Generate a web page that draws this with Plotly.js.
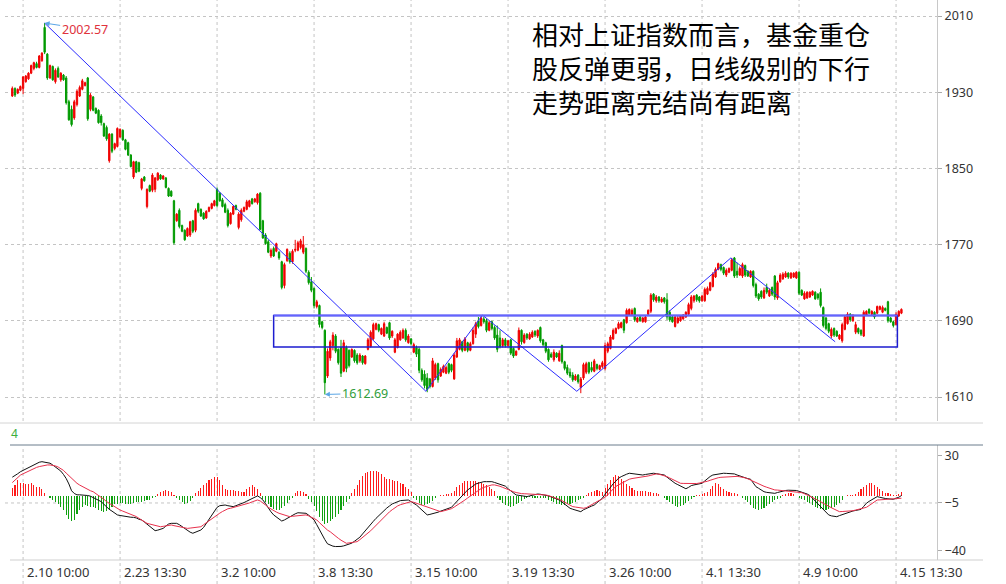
<!DOCTYPE html>
<html><head><meta charset="utf-8">
<script src="https://cdn.plot.ly/plotly-3.0.1.min.js"></script>
<style>html,body{margin:0;padding:0;background:#fff}#chart{width:1006px;height:584px}</style>
</head><body><div id="chart"></div>
<script>
// ---- 30-minute bars, index 0 = 2.9 13:30 ----
const openP=[
1926,1934,1929,1932,1934,1941,1944,1950,1955,1960,
1956,1963,1998,1970,1945,1957,1941,1955,1943,1948,
1945,1920,1912,1903,1917,1926,1933,1937,1945,1912,
1925,1913,1911,1905,1897,1893,1858,1886,1871,1873,
1883,1890,1880,1877,1864,1841,1857,1856,1829,1841,
1810,1832,1827,1828,1838,1843,1839,1840,1829,1826,
1816,1795,1806,1790,1785,1779,1780,1795,1785,1813,
1807,1803,1798,1805,1808,1811,1828,1824,1817,1812,
1806,1792,1802,1811,1788,1796,1805,1807,1810,1818,
1815,1814,1824,1795,1780,1773,1758,1766,1763,1762,
1752,1727,1753,1761,1752,1764,1764,1767,1762,1766,
1741,1731,1724,1705,1706,1689,1680,1632,1651,1664,
1674,1660,1662,1637,1662,1659,1652,1659,1654,1648,
1653,1645,1660,1663,1671,1681,1686,1676,1674,1683,
1688,1674,1657,1662,1670,1672,1680,1667,1671,1657,
1662,1660,1638,1634,1630,1629,1621,1630,1645,1632,
1636,1635,1645,1644,1629,1652,1660,1668,1659,1667,
1659,1666,1676,1690,1685,1692,1690,1680,1689,1683,
1675,1672,1664,1670,1664,1670,1661,1654,1660,1680,
1667,1676,1671,1673,1679,1674,1683,1670,1667,1660,
1655,1649,1656,1648,1664,1647,1641,1636,1633,1628,
1633,1620,1630,1636,1646,1641,1637,1644,1639,1642,
1640,1658,1661,1671,1677,1682,1683,1691,1688,1696,
1697,1703,1689,1694,1689,1689,1697,1700,1718,1711,
1715,1710,1714,1712,1699,1694,1684,1688,1690,1692,
1694,1697,1703,1711,1717,1715,1711,1711,1718,1722,
1726,1736,1744,1749,1746,1738,1741,1743,1756,1742,
1738,1737,1748,1742,1736,1742,1728,1718,1721,1714,
1725,1716,1725,1737,1714,1731,1734,1736,1740,1735,
1736,1735,1741,1722,1713,1714,1715,1717,1720,1718,
1720,1704,1693,1687,1674,1682,1679,1671,1669,1681,
1687,1697,1690,1678,1682,1680,1674,1696,1702,1697,
1699,1698,1702,1699,1703,1710,1693,1689,1686,1695,
1698];
const highP=[
1936,1935,1934,1937,1947,1948,1951,1959,1962,1962,
1969,1972,2002.57,1971,1959,1958,1955,1957,1951,1949,
1947,1922,1916,1922,1933,1937,1944,1941,1946,1929,
1926,1914,1912,1907,1898,1895,1887,1887,1877,1893,
1892,1891,1881,1878,1865,1858,1858,1857,1840,1842,
1829,1833,1845,1841,1846,1844,1843,1841,1830,1827,
1817,1803,1808,1791,1786,1788,1795,1796,1808,1814,
1808,1804,1806,1810,1814,1817,1830,1825,1819,1814,
1808,1804,1811,1812,1804,1808,1810,1817,1817,1819,
1819,1824,1825,1796,1782,1775,1766,1768,1772,1763,
1753,1751,1766,1763,1765,1775,1774,1776,1779,1767,
1743,1736,1725,1712,1707,1690,1681,1661,1670,1678,
1676,1661,1670,1670,1664,1660,1661,1660,1656,1656,
1654,1654,1672,1680,1688,1688,1687,1683,1689,1684,
1689,1680,1672,1677,1680,1682,1682,1676,1672,1667,
1664,1662,1640,1638,1635,1630,1651,1646,1646,1641,
1644,1643,1646,1645,1656,1672,1672,1669,1673,1668,
1668,1683,1689,1694,1696,1694,1692,1690,1690,1685,
1685,1680,1672,1672,1670,1671,1662,1659,1683,1681,
1677,1677,1678,1680,1680,1681,1684,1671,1668,1661,
1657,1660,1657,1659,1665,1648,1644,1640,1636,1634,
1634,1631,1646,1647,1647,1647,1650,1645,1644,1648,
1667,1668,1675,1682,1683,1689,1689,1692,1703,1703,
1703,1704,1694,1695,1694,1695,1702,1719,1719,1717,
1716,1715,1715,1719,1701,1695,1696,1695,1696,1697,
1700,1709,1717,1717,1718,1716,1717,1725,1726,1731,
1741,1746,1751,1750,1747,1745,1746,1756,1757,1751,
1747,1751,1749,1743,1743,1743,1730,1719,1722,1725,
1729,1724,1726,1738,1732,1740,1741,1742,1741,1741,
1741,1742,1742,1723,1721,1721,1721,1722,1721,1719,
1724,1705,1694,1688,1683,1683,1680,1676,1688,1696,
1699,1698,1697,1689,1683,1681,1701,1701,1703,1701,
1700,1706,1706,1706,1704,1711,1694,1690,1699,1701,
1703];
const lowP=[
1925,1925,1928,1931,1928,1940,1943,1949,1953,1955,
1955,1962,1970,1943,1944,1942,1939,1945,1941,1942,
1917,1900,1894,1901,1915,1925,1932,1936,1900,1910,
1910,1907,1897,1895,1883,1879,1856,1866,1869,1872,
1882,1879,1869,1863,1851,1839,1845,1846,1827,1836,
1808,1825,1825,1825,1837,1838,1838,1829,1820,1820,
1770,1794,1787,1783,1774,1778,1778,1782,1783,1803,
1799,1796,1797,1804,1807,1810,1809,1815,1809,1803,
1788,1791,1801,1806,1786,1794,1804,1806,1809,1812,
1814,1812,1785,1776,1770,1761,1756,1757,1762,1754,
1723,1724,1752,1750,1750,1762,1763,1765,1760,1740,
1728,1720,1703,1703,1683,1681,1612.69,1630,1648,1659,
1656,1644,1631,1636,1636,1641,1651,1646,1644,1646,
1644,1644,1659,1662,1670,1680,1678,1675,1673,1676,
1670,1672,1656,1661,1669,1671,1668,1666,1664,1656,
1652,1635,1626,1619,1615,1619,1620,1628,1625,1631,
1635,1634,1634,1636,1628,1651,1659,1657,1658,1657,
1658,1665,1672,1682,1684,1687,1678,1679,1680,1670,
1657,1661,1662,1662,1663,1654,1651,1653,1659,1665,
1666,1670,1670,1672,1673,1672,1667,1663,1656,1647,
1651,1647,1651,1647,1645,1638,1633,1630,1626,1627,
1624,1614,1628,1634,1634,1636,1636,1638,1638,1640,
1638,1656,1660,1670,1676,1681,1682,1677,1687,1695,
1696,1689,1688,1689,1688,1688,1696,1698,1710,1709,
1709,1709,1708,1691,1689,1688,1683,1687,1689,1691,
1693,1696,1701,1709,1710,1709,1710,1710,1717,1721,
1725,1735,1743,1742,1738,1736,1740,1742,1735,1735,
1737,1735,1736,1736,1735,1725,1714,1711,1713,1713,
1718,1715,1716,1712,1712,1730,1733,1735,1734,1734,
1735,1734,1717,1716,1712,1713,1714,1716,1712,1712,
1704,1683,1680,1677,1672,1673,1673,1670,1667,1680,
1686,1689,1689,1676,1676,1674,1673,1695,1697,1696,
1692,1697,1701,1698,1700,1688,1688,1683,1685,1694,
1697];
const closeP=[
1934,1927,1933,1936,1946,1947,1950,1958,1961,1956,
1968,1971,1972,1945,1958,1943,1953,1946,1950,1943,
1919,1901,1896,1920,1931,1935,1942,1940,1902,1927,
1911,1908,1898,1898,1884,1881,1886,1868,1876,1892,
1891,1880,1870,1864,1852,1857,1846,1847,1839,1837,
1828,1826,1843,1840,1845,1839,1842,1830,1821,1821,
1772,1802,1789,1784,1775,1787,1794,1784,1806,1805,
1800,1797,1805,1809,1813,1816,1811,1816,1810,1804,
1790,1803,1810,1807,1802,1806,1809,1815,1816,1813,
1818,1823,1786,1777,1771,1762,1764,1758,1771,1756,
1725,1749,1765,1752,1763,1765,1772,1774,1770,1742,
1730,1722,1706,1710,1686,1683,1625,1658,1668,1675,
1658,1646,1635,1667,1640,1643,1660,1648,1646,1654,
1646,1653,1670,1678,1686,1687,1680,1682,1687,1677,
1672,1679,1670,1676,1678,1680,1670,1674,1666,1665,
1655,1638,1628,1622,1618,1621,1648,1644,1628,1639,
1642,1641,1636,1638,1654,1669,1670,1659,1671,1659,
1666,1680,1687,1684,1693,1689,1680,1688,1682,1672,
1660,1663,1670,1664,1669,1656,1653,1658,1680,1668,
1675,1672,1676,1678,1675,1680,1669,1665,1658,1649,
1652,1657,1652,1656,1647,1640,1635,1632,1628,1632,
1626,1629,1644,1645,1636,1638,1648,1640,1643,1646,
1664,1666,1673,1680,1682,1687,1688,1680,1701,1702,
1701,1691,1693,1690,1693,1694,1701,1717,1712,1715,
1711,1713,1710,1694,1691,1689,1694,1693,1695,1696,
1699,1707,1715,1716,1712,1711,1716,1723,1724,1730,
1739,1744,1750,1744,1740,1743,1745,1754,1737,1738,
1745,1749,1738,1737,1742,1727,1716,1713,1715,1722,
1720,1722,1718,1715,1730,1738,1739,1740,1736,1740,
1740,1741,1719,1717,1719,1720,1720,1721,1713,1714,
1706,1685,1682,1679,1681,1675,1674,1675,1686,1694,
1697,1691,1695,1686,1678,1676,1699,1700,1698,1700,
1694,1705,1705,1704,1701,1690,1689,1685,1697,1700,
1702];
// MACD (DIF, DEA, MACD bar)
const dif=[
14,15,16.5,18,19,20,21,22.5,23.5,24.5,25,25.4,
25.2,25,24.3,23,21.5,20,18.5,16,13,9,4,2,
1,1,1,1,0.5,0,-1,-2,-3,-4,-6,-8,
-9.7,-11,-12.5,-13.8,-14.2,-14.6,-15.1,-15.3,-15.5,-15.6,-16,-17,
-17.5,-19,-20.5,-22.4,-24,-25.4,-25,-24.5,-23.7,-22,-20.5,-20,
-20,-20,-21,-22.5,-23.7,-25,-26.5,-27.3,-26.5,-25.5,-24.9,-23,
-20,-17.5,-14,-11,-8.2,-7,-6.5,-6.5,-7,-7.5,-7.7,-7,
-6.3,-5.7,-4.7,-3.7,-2.8,-1.8,-0.8,0.2,-1,-2.8,-5.5,-8.9,
-11.5,-13.8,-15.5,-17,-18.3,-17.5,-16.3,-15.1,-14,-13,-12.2,-12.2,
-12.4,-12.6,-14,-15.7,-17.5,-21,-25,-28.5,-32,-35.1,-36,-36.8,
-37.1,-37.2,-37,-36.6,-36,-35.3,-34.6,-33.2,-31.8,-30.2,-27.8,-25.3,
-22.9,-20.7,-18.5,-16.3,-14.3,-12.2,-10.2,-8.7,-7.2,-5.7,-4.9,-4.1,
-3.3,-3.1,-2.9,-2.8,-4,-5.2,-6.5,-8.3,-10.2,-12,-13.8,-13.4,
-13,-12.6,-11.8,-11,-10.2,-9.5,-8.8,-8.2,-6,-3.8,-1.5,0.5,
2.6,4.6,6,7.5,9,9.6,10.2,10.7,10.7,10.7,10.7,10.1,
9.5,8.8,8.1,7.4,5.5,3.8,2.2,0.9,0.6,0.3,0,-0.3,
0.2,0.7,1.2,1.6,1.4,1.1,0.9,0.2,-0.5,-1.3,-2,-2.8,
-4.3,-5.8,-7.4,-8.9,-9.6,-10.2,-10.8,-11.4,-10,-8.9,-8.1,-7.3,
-6.5,-4.8,-3.2,-1.5,1.4,4.2,7,9.1,11.1,13.2,14.4,15.5,
16.2,16.9,16.6,16.3,16,15.8,15.6,16,16.3,16.6,16.9,16.6,
16.2,15.8,15.6,14,12.3,10.6,9.5,8.5,7.5,6.2,5.5,6.5,
7.8,8.3,8.6,9,9.5,11.2,13,14.5,15.6,16,16.4,16.8,
16.9,16.8,16.6,16.5,16.4,15.6,14.8,13.9,13.4,12.9,12.5,9.8,
7,5.8,4.5,3.3,2.8,2.4,2.2,2.1,2.7,3.3,4,4.2,
4.4,4.5,4.6,4.2,3.6,3,2.6,1.6,0.5,-1.5,-3.5,-5.6,
-7.6,-9.7,-11.8,-13.8,-14.5,-15,-15.1,-14.3,-13.5,-13.1,-12.3,-11.4,
-10.9,-10.5,-10.1,-9.7,-7.5,-5.2,-3.8,-2.5,-1.2,-0.3,-0.8,-1.5,
-1.7,-1.9,-2.1,-2.3,-1.5,-0.8,0.5];
const dea=[
10,12,14,15.5,16.5,17.5,18.5,19.5,20.6,21.2,21.8,22.3,
22.8,23,23,22.7,22.3,21.5,20.5,19,17,15,13,11,
9.5,8.2,7,6,5,4,3.3,2,0.6,-0.8,-2.3,-4,
-5.3,-6.5,-7.8,-9,-10.2,-11,-11.7,-12.5,-13.2,-13.8,-15,-16.3,
-17.5,-18.8,-20,-20.5,-21,-21.5,-22.5,-22.5,-22.2,-21.9,-21.6,-21.2,
-21.7,-22.2,-22.7,-23.2,-23.5,-23.7,-23.5,-23.2,-23,-22.7,-22.5,-21,
-19.5,-18,-16.5,-15.1,-13.8,-12.5,-11.3,-10,-9.3,-8.9,-8.4,-7.9,
-7.4,-7,-6.5,-5.7,-5,-4.2,-3.5,-2.8,-3.5,-4.8,-6.5,-8.2,
-9.5,-10.6,-11.7,-12.6,-13.3,-14,-14.6,-15.1,-14.8,-14.6,-14.3,-14.1,
-14,-13.8,-14.5,-15.5,-16.5,-17.5,-19.5,-21.5,-23.3,-25,-26.2,-28,
-29.5,-31,-32.4,-33.6,-34.7,-34.4,-34.1,-33.8,-33.5,-32,-30.5,-28.8,
-27,-25.5,-23.5,-21.5,-19.3,-17,-15,-13.2,-11.5,-10,-8.3,-7.2,
-6.3,-5.7,-5,-4.5,-4,-4.5,-5.2,-6,-6.8,-7.5,-8.2,-8.9,
-9.5,-10.2,-10.8,-11.4,-10.9,-10.4,-9.9,-9.2,-8,-6.8,-5.3,-4,
-2.8,-1.3,0.2,1.7,3.2,4.6,5.6,6.5,7.3,8,8.3,8.3,
8,7.3,6.5,5.6,4.6,4,3.3,2.7,2.1,1.9,1.8,1.7,
1.7,1.6,1.6,1.5,1.3,1.1,0.9,0.4,-0.2,-0.8,-1.5,-2.3,
-3.3,-4.4,-5.5,-6.6,-7.7,-8,-8.3,-8.6,-8.9,-8.5,-7.6,-6.4,
-5.2,-4,-3.2,-2,-0.6,0.9,3.2,5.6,7.2,8.3,9.5,10.7,
11.8,12.5,13,13.3,13.6,13.9,13.9,14.4,14.9,15.4,15.9,16.4,
16.2,15.7,15,14.4,13.4,12.4,11.4,10.5,9.5,9.4,9.3,9.2,
9.1,9,9.3,9.7,10,10.4,11,11.7,12.4,13.1,13.6,13.9,
14.1,14.3,14.5,14.7,14.8,14.6,14.3,14,13.5,12.8,11.8,10.8,
9.8,8.8,8,7.3,6.6,5.9,5.2,4.6,4.5,4.3,4.2,4,
3.9,3.8,3.6,3.5,3.3,2.6,1.8,1,0.2,-0.8,-1.9,-3,
-4.2,-5.3,-6.5,-7.5,-8.5,-9.5,-10.5,-11.4,-11.3,-11.2,-11,-10.9,
-10.7,-10.2,-9.7,-9.2,-8.7,-8.2,-6.9,-5.6,-4.2,-2.8,-2.7,-2.6,
-2.5,-2.4,-2.3,-2.3,-2.2,-2,-1.5];
const macdBar=[
6,8,12,10,9.5,9,9,9.5,8,7,7,5,2,0.5,
-1,-3,-4.5,-6,-8,-10,-14,-17,-18,-17.5,
-13,-10,-8,-6.5,-7,-8,-8,-9,-10,-11,-11.5,-11,-10,
-8,-6,-5.5,-5,-5,-5.5,-6,-5.5,-5,-4.5,-4,
-4,-3.5,-3,-2.5,-1.5,-0.5,1.5,3,4,4.5,4,3,1,
-1.5,-3,-4.5,-5.5,-5,-3.5,-1.5,
2,4,6,8,10,12,13,14,14.5,12,8,5.5,4.5,
4.5,4.5,4,3.5,3,3,5,7,8,7,5,2,
-2,-4,-6,-8,-9.5,-10.5,-10,-9,-7,-5,-3,-1,
2,3.5,4,3,1.5,
-2,-4,-7,-11,-15,-18.5,-20.5,-20,-18,-17,-15,-13,-10,-7,-4.5,-2,
2,5,8,12,15,17,18,18.5,18.6,18.5,17.5,16,14,13,12.5,12,11.5,11,10,9,7,5,3,
-1,-3,-5,-6.5,-6.8,-6,-5,-3.5,-1.5,
0.5,1,1,1.5,1.5,2,
4,6.5,8.5,10,11,11,11,11,11,10.5,10,9,8,6.5,5,3.5,
-1,-3,-5,-6.5,-7.5,-7.7,-7,-6,-5,-3.5,-2,-1,
-0.5,-1,-1,-1.5,-1,-1,-1.5,
-2.5,-3.5,-4.5,-5.5,-6,-6.5,-6.5,-6,-5.5,-5,-4,-3,-2,-1,
1,2,3,4,4.5,4,3,
6,9,12,14.5,15.6,15,13,11,9,7.5,6,4.5,3.5,
4,4,3.5,3,3,2.5,2,1.5,0.5,
-1,-2.5,-4,-5.5,-7,-7.7,-7.5,-6.5,-5,-3.5,-2,-0.5,
1,1,1.5,2,3,
5,7.5,9.5,9,7,5,3.5,
3,2.5,2,1.5,0.5,
-1,-2.5,-4.5,-6.5,-8.5,-9.5,-10,-9.5,-8.5,-7,-5.5,-4.5,-3,-2,-1,
1,1.5,2,2,1.5,0.5,
-1,-2,-3,-4,-5,-6.5,-8,-9,-9.5,-10,-10,-9.5,-9,-8,-6.5,-5,-3,
0.5,1,1,1,1.5,
3,5,7,8.5,9.5,9.5,8.5,7,5,
3.5,2.5,2,1.5,1,1,1.5,3];
// axis ticks
const tickIdx=[4,40,76,112,148,184,220,256,292,328];
const tickLabels=['2.10 10:00','2.23 13:30','3.2 10:00','3.8 13:30','3.15 10:00','3.19 13:30','3.26 10:00','4.1 13:30','4.9 10:00','4.15 13:30'];
const priceTicks=[1610,1690,1770,1850,1930,2010];
const macdTicks=[-40,-5,30];
// drawn trend lines (zigzag) and range box
const zigIdx=[12,153.5,174.5,209.5,266.7,305.4];
const zigVal=[2002.57,1616,1696,1616,1756,1668];
const boxIdx=[97,328.5];
const boxVal=[1662.5,1695.5];
const peakIdx=12, peakVal=2002.57, lowIdx=116, lowVal=1612.69;
const noteLines=['相对上证指数而言，基金重仓','股反弹更弱，日线级别的下行','走势距离完结尚有距离'];
const panelLabel='4';

const W=1006,H=584;
const barIdx=openP.map((_,i)=>i);
const RED='#f00000', GRN='#009a00';
const traces=[
 {type:'candlestick',x:barIdx,open:openP,high:highP,low:lowP,close:closeP,xaxis:'x',yaxis:'y',
  increasing:{line:{color:RED,width:1},fillcolor:RED},decreasing:{line:{color:GRN,width:1},fillcolor:GRN},
  whiskerwidth:0,hoverinfo:'skip'},
 {type:'scatter',mode:'lines',x:zigIdx,y:zigVal,xaxis:'x',yaxis:'y',line:{color:'rgb(45,45,255)',width:1},hoverinfo:'skip'},
 {type:'bar',x:barIdx,y:macdBar,xaxis:'x',yaxis:'y2',width:0.4,
  marker:{color:macdBar.map(v=>v>=0?'#ff1a1a':'#10a010'),line:{width:0}},hoverinfo:'skip'},
 {type:'scatter',mode:'lines',x:barIdx,y:dif,xaxis:'x',yaxis:'y2',line:{color:'#111',width:1},hoverinfo:'skip'},
 {type:'scatter',mode:'lines',x:barIdx,y:dea,xaxis:'x',yaxis:'y2',line:{color:'#e8304c',width:1},hoverinfo:'skip'}
];
const gridC='#c4c4c4';
const shapes=[];
tickIdx.forEach(t=>{
 shapes.push({type:'line',xref:'x',yref:'paper',x0:t,x1:t,y0:1-421/H,y1:1,line:{color:gridC,width:1,dash:'dot'},layer:'below'});
 shapes.push({type:'line',xref:'x',yref:'paper',x0:t,x1:t,y0:0,y1:1-446/H,line:{color:gridC,width:1,dash:'dot'},layer:'below'});
});
shapes.push({type:'line',xref:'x',yref:'y2',x0:-2.7,x1:343.2,y0:macdTicks[1],y1:macdTicks[1],line:{color:gridC,width:1,dash:'dot'},layer:'below'});
shapes.push({type:'line',xref:'paper',yref:'paper',x0:0,x1:983/W,y0:1-423/H,y1:1-423/H,line:{color:'#d4d4d4',width:1}});
shapes.push({type:'line',xref:'paper',yref:'paper',x0:10/W,x1:983/W,y0:1-445/H,y1:1-445/H,line:{color:'#6b7c8c',width:1}});
shapes.push({type:'line',xref:'paper',yref:'paper',x0:10/W,x1:983/W,y0:1-560/H,y1:1-560/H,line:{color:'#cfcfcf',width:1}});
shapes.push({type:'rect',xref:'x',yref:'y',x0:boxIdx[0],x1:boxIdx[1],y0:boxVal[0],y1:boxVal[1],line:{color:'#1d1dd0',width:1.5}});
shapes.push({type:'line',xref:'x',yref:'y',x0:boxIdx[0],x1:boxIdx[1],y0:boxVal[1],y1:boxVal[1],line:{color:'#6464ff',width:2}});

const annotations=[
 {xref:'paper',yref:'paper',x:530/W,y:1-13/H,xanchor:'left',yanchor:'top',align:'left',showarrow:false,
  text:noteLines.join('<br>'),font:{family:'Noto Sans CJK SC',size:26,color:'#000'}},
 {xref:'x',yref:'y',x:peakIdx,y:peakVal,text:String(peakVal),showarrow:true,ax:40,ay:6,arrowhead:2,arrowsize:1,arrowwidth:1,
  arrowcolor:'#5aa6e6',font:{family:'Noto Sans',size:12.5,color:'#e0323c'},standoff:0},
 {xref:'x',yref:'y',x:lowIdx,y:lowVal,text:String(lowVal),showarrow:true,ax:40,ay:-1,arrowhead:2,arrowsize:1,arrowwidth:1,
  arrowcolor:'#5aa6e6',font:{family:'Noto Sans',size:12.5,color:'#2f9e3c'},standoff:0},
 {xref:'paper',yref:'paper',x:9/W,y:1-433/H,xanchor:'left',yanchor:'middle',showarrow:false,text:panelLabel,
  font:{family:'Noto Sans',size:12,color:'#3cae3c'}}
];
tickIdx.forEach((t,k)=>annotations.push({xref:'x',yref:'paper',x:t,y:1-572/H,xanchor:'left',yanchor:'middle',xshift:2,
  showarrow:false,text:tickLabels[k],font:{family:'Noto Sans',size:13,color:'#333'}}));

const yTickFont={family:'Noto Sans',size:12.5,color:'#333'};
const layout={
 width:W,height:H,margin:{l:0,r:0,t:0,b:0},paper_bgcolor:'#fff',plot_bgcolor:'rgba(0,0,0,0)',showlegend:false,
 xaxis:{domain:[5/W,937/W],range:[-2.71,343.2],anchor:'y2',showgrid:false,zeroline:false,showticklabels:false,ticks:'',
  showline:false,rangeslider:{visible:false},fixedrange:true},
 yaxis:{domain:[1-421/H,1],range:[1584.8,2026.8],side:'right',anchor:'x',tickvals:priceTicks,ticks:'outside',ticklen:4,
  tickcolor:'#aaa',showgrid:true,gridcolor:gridC,griddash:'dot',showline:true,linecolor:'#c8c8c8',zeroline:false,tickfont:yTickFont,fixedrange:true},
 yaxis2:{domain:[1-560/H,1-445/H],range:[-47,37.7],side:'right',anchor:'x',tickvals:macdTicks,ticks:'outside',ticklen:4,
  tickcolor:'#aaa',showgrid:false,showline:true,linecolor:'#c8c8c8',zeroline:false,tickfont:yTickFont,fixedrange:true},
 bargap:0,shapes:shapes,annotations:annotations
};
Plotly.newPlot('chart',traces,layout,{staticPlot:true,displayModeBar:false});
</script></body></html>
